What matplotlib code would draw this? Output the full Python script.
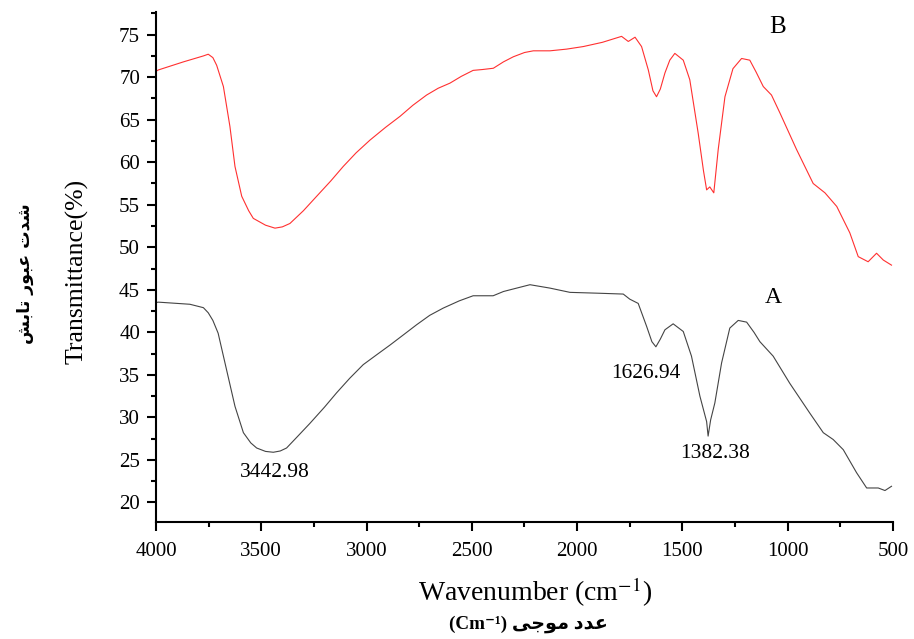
import numpy as np
import matplotlib.pyplot as plt
from matplotlib.ticker import MultipleLocator

plt.rcParams['mathtext.fontset'] = 'stix'

# spectrum B (red)
wn_b = [4000, 3989, 3870, 3775, 3752, 3730, 3712, 3680, 3649, 3625, 3593, 3560, 3538,
        3480, 3435, 3400, 3364, 3300, 3237, 3170, 3111, 3050, 2984, 2910, 2841,
        2780, 2715, 2660, 2604, 2550, 2494, 2450, 2398, 2350, 2303, 2250, 2208,
        2129, 2050, 1971, 1880, 1789, 1757, 1725, 1694, 1662, 1640, 1623, 1605,
        1583, 1560, 1536, 1496, 1465, 1425, 1400, 1385, 1370, 1351, 1330, 1298,
        1260, 1219, 1180, 1150, 1116, 1077, 1037, 958, 879, 823, 767, 705, 665,
        618, 578, 546, 507]
tr_b = [70.7, 70.85, 71.8, 72.5, 72.7, 72.3, 71.4, 68.9, 64.2, 59.5, 56.0, 54.3, 53.4,
        52.6, 52.25, 52.4, 52.8, 54.3, 56.0, 57.8, 59.5, 61.1, 62.6, 64.1, 65.4,
        66.7, 67.9, 68.7, 69.3, 70.1, 70.8, 70.9, 71.05, 71.8, 72.4, 72.9, 73.1,
        73.1, 73.3, 73.6, 74.1, 74.8, 74.2, 74.7, 73.6, 70.85, 68.4, 67.7, 68.6,
        70.5, 72.0, 72.8, 72.0, 69.7, 63.4, 59.0, 56.75, 57.1, 56.4, 61.5, 67.7,
        71.0, 72.2, 72.0, 70.6, 68.9, 67.9, 65.8, 61.5, 57.5, 56.4, 54.8, 51.7,
        48.9, 48.3, 49.3, 48.5, 47.9]

# spectrum A (black)
wn_a = [4000, 3989, 3839, 3775, 3752, 3730, 3705, 3665, 3625, 3585, 3550, 3522,
        3480, 3443, 3410, 3380, 3330, 3269, 3200, 3142, 3080, 3016, 2950, 2889,
        2820, 2762, 2700, 2636, 2560, 2494, 2399, 2350, 2303, 2224, 2129, 2034,
        1900, 1781, 1750, 1710, 1670, 1645, 1626, 1605, 1583, 1544, 1496, 1457,
        1417, 1385, 1378, 1366, 1346, 1314, 1275, 1235, 1195, 1160, 1132, 1069,
        990, 895, 831, 784, 736, 673, 625, 570, 538, 507]
tr_a = [43.5, 43.55, 43.3, 42.9, 42.3, 41.4, 39.9, 35.6, 31.3, 28.2, 27.0, 26.4,
        26.0, 25.9, 26.05, 26.4, 27.7, 29.3, 31.2, 32.9, 34.6, 36.2, 37.4, 38.5,
        39.8, 40.9, 42.0, 42.85, 43.7, 44.3, 44.3, 44.8, 45.1, 45.6, 45.2, 44.7,
        44.6, 44.5, 43.9, 43.4, 40.7, 38.9, 38.3, 39.2, 40.3, 41.0, 40.1, 37.2,
        32.5, 29.5, 27.8, 29.7, 31.7, 36.4, 40.5, 41.4, 41.2, 40.0, 38.9, 37.2,
        34.0, 30.5, 28.2, 27.4, 26.2, 23.5, 21.7, 21.7, 21.4, 21.9]

peak_labels = ['3442.98', '1626.94', '1382.38']
peak_pos = [(3435, 23.5), (1673, 35.2), (1346, 25.8)]

# persian text, pre-shaped (presentation forms) in visual order
fa_ylabel = '\uFEB6\uFE91\uFE8E\uFE97 \uFEAD\uFEEE\uFE92\uFECB \uFE95\uFEAA\uFEB7'
fa_xlabel = '(Cm\u207B\u00B9) \uFEF0\uFE9F\uFEEE\uFEE3 \uFEA9\uFEAA\uFECB'

fig = plt.figure(figsize=(9.14, 6.39), dpi=100)
ax = fig.add_axes([0.1707, 0.1831, 0.8063, 0.7986])

ax.plot(wn_b, tr_b, color='#ff3030', lw=0.8)
ax.plot(wn_a, tr_a, color='#444444', lw=0.8)

ax.set_xlim(4000, 500)
ax.set_ylim(17.7, 77.7)
ax.xaxis.set_major_locator(MultipleLocator(500))
ax.xaxis.set_minor_locator(MultipleLocator(250))
ax.yaxis.set_minor_locator(MultipleLocator(2.5))
ax.set_yticks(np.arange(20, 80, 5))

for s in ['top', 'right']:
    ax.spines[s].set_visible(False)
for s in ['left', 'bottom']:
    ax.spines[s].set_linewidth(1.5)

ax.tick_params(which='major', direction='out', length=6.5, width=1.5,
               labelsize=15)
ax.tick_params(axis='x', which='major', pad=8)
ax.tick_params(axis='y', which='major', pad=5)
ax.tick_params(which='minor', direction='out', length=3.5, width=1.5)
for lab in ax.get_xticklabels() + ax.get_yticklabels():
    lab.set_family('Liberation Serif')

for txt, (x, y) in zip(peak_labels, peak_pos):
    ax.text(x, y, txt, family='Liberation Serif', fontsize=15.5,
            ha='center', va='center')
ax.text(1070, 44.05, 'A', family='Liberation Serif', fontsize=17,
        ha='center', va='center')
ax.text(1047, 75.9, 'B', family='Liberation Serif', fontsize=18,
        ha='center', va='center')

fig.text(535 / 914, 1 - 592 / 639, r'Wavenumber (cm$^{-1}$)', family='Liberation Serif',
         fontsize=20, ha='center', va='center')
fig.text(77 / 914, 1 - 271 / 639, 'Transmittance(%)', family='Liberation Serif',
         fontsize=18.5, ha='center', va='center', rotation=90)
fig.text(25 / 914, 1 - 274 / 639, fa_ylabel, family=['DejaVu Sans'],
         fontweight='bold', fontsize=12.5, ha='center', va='center', rotation=90)
fig.text(528 / 914, 1 - 624 / 639, fa_xlabel,
         family=['Liberation Serif', 'DejaVu Sans'], fontweight='bold',
         fontsize=13.8, ha='center', va='center')

fig.savefig('out.png', dpi=100)
